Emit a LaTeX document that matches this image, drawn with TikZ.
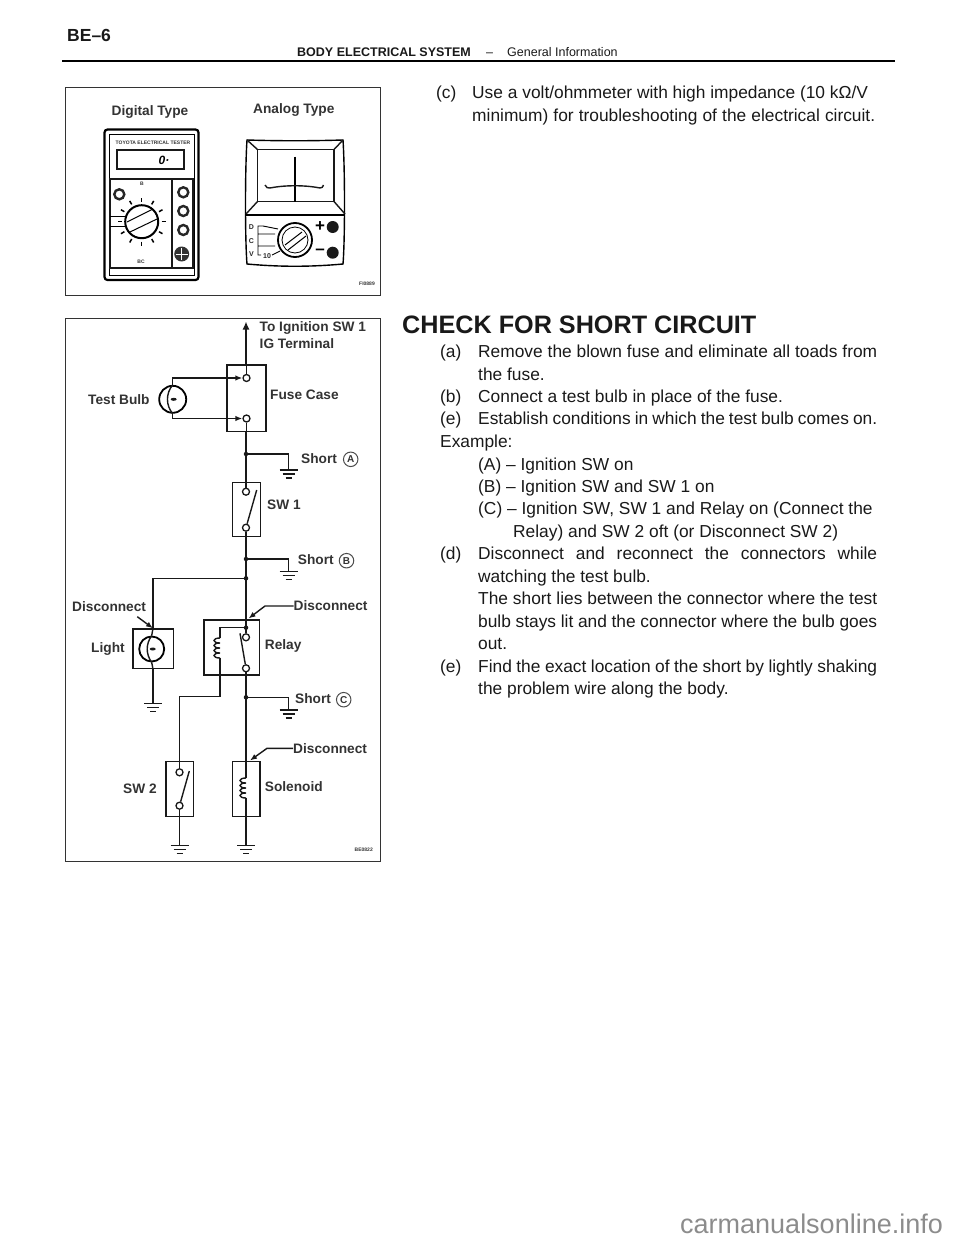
\documentclass[tikz,border=0pt]{standalone}
\usepackage{fontspec}
\setmainfont{Liberation Sans}
\usetikzlibrary{calc,arrows.meta,shapes.geometric}
\tikzset{
  wire/.style={line width=1.4pt,draw=black!90},
  framebox/.style={line width=1.4pt,draw=black!80},
  partbox/.style={line width=1.5pt,draw=black!90},
  figlabel/.style={inner sep=0pt,anchor=west,font=\fontsize{13.7}{15}\selectfont\bfseries,text=black!80},
  bodyline/.style={inner sep=0pt,anchor=base west,font=\fontsize{17.35}{20}\selectfont,text=black!90},
  terminal/.style={circle,draw=black!90,fill=white,line width=1.3pt,minimum size=7pt,inner sep=0pt},
  junction/.style={circle,fill=black!90,minimum size=4.5pt,inner sep=0pt},
  tinylabel/.style={inner sep=0pt,font=\fontsize{5}{5}\selectfont\bfseries,text=black!80},
  rangelabel/.style={inner sep=0pt,font=\fontsize{7}{7}\selectfont\bfseries,text=black!85},
  filament/.style={ellipse,fill=black!90,minimum width=6pt,minimum height=3pt,inner sep=0pt},
  jackring/.style={circle,draw=black!85,fill=white,line width=2.4pt,minimum size=10pt,inner sep=0pt},
  shortmark/.style={circle,draw=black!70,line width=1pt,minimum size=14.5pt,inner sep=0pt,font=\fontsize{10}{10}\selectfont\bfseries,text=black!80},
  tip/.style={-{Latex[length=7pt,width=5.5pt]}},
}
\newcommand{\earth}[1]{%
  \draw[wire] ($(#1)+(-9,0)$) -- ($(#1)+(9,0)$);
  \draw[wire] ($(#1)+(-6,4)$) -- ($(#1)+(6,4)$);
  \draw[wire] ($(#1)+(-3,8)$) -- ($(#1)+(3,8)$);
}
\newcommand{\coilat}[1]{%
  \draw[wire] ($(#1)+(0,-10)$) .. controls ($(#1)+(-8,-10)$) and ($(#1)+(-8,-5)$) .. ($(#1)+(0,-5)$)
    .. controls ($(#1)+(-8,-5)$) and ($(#1)+(-8,0)$) .. ($(#1)+(0,0)$)
    .. controls ($(#1)+(-8,0)$) and ($(#1)+(-8,5)$) .. ($(#1)+(0,5)$)
    .. controls ($(#1)+(-8,5)$) and ($(#1)+(-8,10)$) .. ($(#1)+(0,10)$);
}
\newcommand{\fullline}[1]{\makebox[399pt][s]{#1}}
\begin{document}
\begin{tikzpicture}[x=1pt,y=-1pt]
  \useasboundingbox (0,0) rectangle (960,1242);
  % page head
  \node[bodyline,font=\fontsize{17.5}{20}\selectfont\bfseries] (pageno) at (67,41) {BE–6};
  \node[bodyline,font=\fontsize{12.5}{14}\selectfont\bfseries] (headleft) at (297,56) {BODY ELECTRICAL SYSTEM};
  \node[bodyline,font=\fontsize{12.5}{14}\selectfont] (headdash) at (486,56) {–};
  \node[bodyline,font=\fontsize{12.5}{14}\selectfont] (headright) at (507,56) {General Information};
  \draw[line width=1.4pt] (62,61) -- (895,61);
  % tester figure
  \node[draw,framebox,minimum width=315pt,minimum height=208pt,inner sep=0pt,anchor=north west] (meterframe) at (65,87) {};
  \node[figlabel] (digital) at (111.5,112) {Digital Type};
  \node[figlabel] (analog) at (253,110) {Analog Type};
  \node[tinylabel,anchor=east] (meterno) at (375,284) {FI0889};
  % digital tester
  \draw[line width=2.2pt,rounded corners=3pt] (104.5,129.5) rectangle (198.5,280);
  \draw[line width=.8pt] (109,134) rectangle (194,275);
  \draw[wire] (117,150) rectangle (184,169);
  \node[tinylabel] (brand) at (153,143) {TOYOTA ELECTRICAL TESTER};
  \node[inner sep=0pt,font=\fontsize{12}{12}\selectfont\bfseries\itshape] (reading) at (164,160) {0·};
  \draw[wire] (110,179) rectangle (193,268);
  \draw[wire] (172,179) -- (172,268);
  \draw[line width=.8pt] (110,216.7) -- (127,216.7) (110,226.7) -- (127,226.7);
  \node[tinylabel] (tagb) at (142,184) {B};
  \node[tinylabel] (tagbc) at (141,262) {BC};
  \node[circle,draw,line width=2pt,fill=white,minimum size=33pt,inner sep=0pt] (dial) at (141.7,221.7) {};
  \draw[line width=1pt] (127,222) -- (153,209) (130,232) -- (157,219);
  \foreach \a in {0,30,...,330}
    \draw[line width=1.5pt] ($(dial)+(\a:20)$) -- ($(dial)+(\a:24)$);
  \node[jackring] (knob) at (119.3,194.3) {};
  \foreach \y/\n in {192.3/one,211/two,230/three}
    \node[jackring] (jack\n) at (183.3,\y) {};
  \node[circle,fill=black!80,minimum size=15pt,inner sep=0pt] (socket) at (181.7,254) {};
  \draw[white,line width=.8pt] ($(socket)+(-6,0)$) -- ($(socket)+(6,0)$) ($(socket)+(0,-6)$) -- ($(socket)+(0,6)$);
  % analog tester
  \draw[line width=1.4pt] (247,140) .. controls (280,141) and (310,141) .. (343,140)
    .. controls (345,170) and (345,240) .. (343,264) .. controls (310,267) and (280,267) .. (247,264)
    .. controls (245,240) and (245,170) .. (247,140) -- cycle;
  \draw[wire] (257.5,149.5) rectangle (334,201.5);
  \draw[wire] (247,140) -- (257.5,149.5) (343,140) -- (334,149.5) (257.5,201.5) -- (246,214) (334,201.5) -- (345,214);
  \draw[line width=1.5pt] (245.5,215) -- (345,215);
  \draw[line width=2pt] (295,156.5) -- (295,201.5);
  \draw[wire] (265,185) .. controls (266,188) and (268,188) .. (270,188) .. controls (285,185) and (305,185) .. (320,188) .. controls (322,188) and (323,187) .. (323.5,185);
  \node[circle,draw,line width=1.8pt,minimum size=34pt,inner sep=0pt] (adial) at (295,240) {};
  \node[circle,draw,line width=.8pt,minimum size=26pt,inner sep=0pt] (adialin) at (295,240) {};
  \draw[line width=1pt] (285,245) -- (302,232) (288,250) -- (306,236);
  \node[circle,fill=black!90,minimum size=12pt,inner sep=0pt] (plusjack) at (332.7,227) {};
  \node[circle,fill=black!90,minimum size=12pt,inner sep=0pt] (minusjack) at (332.7,252.7) {};
  \node[inner sep=0pt,font=\fontsize{17}{17}\selectfont\bfseries] (plussign) at (320,226.7) {+};
  \node[inner sep=0pt,font=\fontsize{17}{17}\selectfont\bfseries] (minussign) at (320,252) {–};
  \node[rangelabel] (rangeD) at (251.5,226.7) {D};
  \node[rangelabel] (rangeC) at (251.5,240.7) {C};
  \node[rangelabel] (rangeV) at (251.5,254) {V};
  \node[rangelabel] (rangeten) at (267,256.5) {10};
  \draw[line width=.9pt] (263,226) -- (258,226) -- (258,255) -- (261,255)
    (258,234) -- (275,234) (258,246) -- (275,246) (263,226) -- (278,229) (272,255) -- (280,251);
  % circuit figure
  \node[draw,framebox,minimum width=315pt,minimum height=543pt,inner sep=0pt,anchor=north west] (circuitframe) at (65,318) {};
  \node[draw,partbox,minimum width=39pt,minimum height=66.5pt,inner sep=0pt] (fusecase) at (246.3,398.3) {};
  \node[draw,partbox,minimum width=28pt,minimum height=54pt,inner sep=0pt] (swone) at (246.7,509.7) {};
  \node[draw,partbox,minimum width=40.5pt,minimum height=39.3pt,inner sep=0pt] (lightbox) at (153,648.7) {};
  \node[draw,partbox,minimum width=55.3pt,minimum height=55pt,inner sep=0pt] (relay) at (231.7,647.5) {};
  \node[draw,partbox,minimum width=27.3pt,minimum height=55pt,inner sep=0pt] (swtwo) at (179.7,789.2) {};
  \node[draw,partbox,minimum width=27.3pt,minimum height=55pt,inner sep=0pt] (solenoid) at (246.3,789.2) {};
  \coordinate (ignition) at (246,321.5);
  \coordinate (jA) at (246,454);
  \coordinate (jB) at (246,559);
  \coordinate (jD) at (246,578.3);
  \coordinate (jR) at (246,627.7);
  \coordinate (jC) at (246,697.3);
  \coordinate (gA) at (288.5,470);
  \coordinate (gB) at (288.5,571.7);
  \coordinate (gC) at (288.5,710);
  \coordinate (gL) at (153,703.3);
  \coordinate (gS) at (179.5,845.7);
  \coordinate (gT) at (246,845.7);
  % main line
  \draw[wire,-{Latex[length=8pt,width=7pt]}] (fusecase.north -| ignition) -- (ignition);
  \draw[wire] (fusecase.south -| jA) -- (swone.north -| jA);
  \draw[wire] (swone.south -| jA) -- (relay.north -| jA);
  \draw[wire] (relay.north -| jA) -- (jR);
  \draw[wire] (relay.south -| jA) -- (solenoid.north -| jA);
  \draw[wire] (solenoid.south -| jA) -- (gT);
  \draw[wire] (jA) -| (gA);
  \draw[wire] (jB) -| (gB);
  \draw[wire] (jC) -| (gC);
  \draw[wire] (jD) -| (lightbox.north -| gL);
  \draw[wire] (lightbox.south -| gL) -- (gL);
  \draw[wire] (swtwo.south -| gS) -- (gS);
  \earth{gA} \earth{gB} \earth{gC} \earth{gL} \earth{gS} \earth{gT}
  \foreach \p in {jA,jB,jD,jR,jC} \node[junction] at (\p) {};
  % fuse case and test bulb
  \node[circle,draw,line width=1.8pt,minimum size=27pt,inner sep=0pt] (bulb) at (172.7,399.3) {};
  \node[terminal] (fusetop) at (246.5,378) {};
  \node[terminal] (fusebot) at (246.5,418.5) {};
  \draw[wire,tip] (bulb.north) |- (fusetop.west);
  \draw[wire,tip] (bulb.south) |- (fusebot.west);
  \draw[wire] (fusecase.north -| fusetop) -- (fusetop.north) (fusebot.south) -- (fusecase.south -| fusebot);
  \draw[wire] (bulb.north) .. controls ($(bulb)+(-7,-6)$) and ($(bulb)+(-7,6)$) .. (bulb.south);
  \node[filament] (bulbfil) at ($(bulb)+(1,0)$) {};
  % switches
  \node[terminal] (swonetop) at (246,491.7) {};
  \node[terminal] (swonebot) at (246,527.7) {};
  \draw[wire] (swone.north -| swonetop) -- (swonetop.north) (swonebot.south) -- (swone.south -| swonebot);
  \draw[wire] (swonebot) -- (256.7,490);
  \node[terminal] (swtwotop) at (179.5,772.3) {};
  \node[terminal] (swtwobot) at (179.5,805.7) {};
  \draw[wire] (swtwo.north -| swtwotop) -- (swtwotop.north) (swtwobot.south) -- (swtwo.south -| swtwobot);
  \draw[wire] (swtwobot) -- (189.3,771);
  % light
  \node[circle,draw,line width=1.8pt,minimum size=25pt,inner sep=0pt] (lamp) at (151.7,649) {};
  \draw[wire] (lamp.north) .. controls ($(lamp)+(-6,-5)$) and ($(lamp)+(-6,5)$) .. (lamp.south);
  \draw[wire] (lightbox.north -| gL) -- (lamp.north) (lamp.south) -- (lightbox.south -| gL);
  \node[filament] (lampfil) at ($(lamp)+(1,0)$) {};
  % relay
  \coordinate (relaycoil) at (220,648);
  \draw[wire] (jR) -| ($(relaycoil)+(0,-10)$);
  \coilat{relaycoil}
  \draw[wire] ($(relaycoil)+(0,10)$) -- (220,696.7) -| (swtwo.north -| gS);
  \node[terminal] (relaytop) at (246,637.3) {};
  \node[terminal] (relaybot) at (246,668.3) {};
  \draw[wire] (jR) -- (relaytop.north) (relaybot.south) -- (relay.south -| jR);
  \draw[wire] (relaybot) -- (240,633.3);
  % solenoid
  \coordinate (solcoil) at (246,788);
  \coilat{solcoil}
  \draw[wire] (solenoid.north -| solcoil) -- ($(solcoil)+(0,-10)$) ($(solcoil)+(0,10)$) -- (solenoid.south -| solcoil);
  % disconnect pointers
  \node[figlabel] (dislight) at (72,606.5) {Disconnect};
  \node[figlabel] (disrelay) at (293.5,606) {Disconnect};
  \node[figlabel] (dissol) at (293,748.3) {Disconnect};
  \coordinate (ptlight) at (137.3,616.7);
  \draw[wire,tip] (ptlight) -- (lightbox.north -| gL);
  \draw[wire,tip] (disrelay.west) -- (265,606) -- (248.5,618.5);
  \draw[wire,tip] (dissol.west) -- (267,748.3) -- (250,760.5);
  % circuit labels
  \node[figlabel] (tolabelA) at (259.5,328) {To Ignition SW 1};
  \node[figlabel] (tolabelB) at (259.5,343.7) {IG Terminal};
  \node[figlabel] (fuselabel) at (270,394.7) {Fuse Case};
  \node[figlabel] (bulblabel) at (88,399.3) {Test Bulb};
  \node[figlabel] (shortA) at (301,459) {Short};
  \node[shortmark] (markA) at (350.7,459.3) {A};
  \node[figlabel] (swonelabel) at (267,505) {SW 1};
  \node[figlabel] (shortB) at (297.7,560) {Short};
  \node[shortmark] (markB) at (346.5,560.7) {B};
  \node[figlabel] (lightlabel) at (91,649) {Light};
  \node[figlabel] (relaylabel) at (264.7,646) {Relay};
  \node[figlabel] (shortC) at (295,699) {Short};
  \node[shortmark] (markC) at (343.7,699.7) {C};
  \node[figlabel] (swtwolabel) at (123,789) {SW 2};
  \node[figlabel] (sollabel) at (264.7,787) {Solenoid};
  \node[tinylabel,anchor=east] (circuitno) at (373,850) {BE0822};
  % right column
  \node[bodyline] (c1) at (436,98) {(c)};
  \node[bodyline] (c1b) at (472,98) {Use a volt/ohmmeter with high impedance (10 kΩ/V};
  \node[bodyline] (c2) at (472,121) {\makebox[403pt][s]{minimum) for troubleshooting of the electrical circuit.}};
  \node[bodyline,font=\fontsize{25.2}{28}\selectfont\bfseries] (title) at (402,333) {CHECK FOR SHORT CIRCUIT};
  \foreach \tagtext/\y in {(a)/357,(b)/402,(e)/424.5,(d)/559,(e)/672}
    \node[bodyline] at (440,\y) {\tagtext};
  \node[bodyline] (a1) at (478,357) {\fullline{Remove the blown fuse and eliminate all toads from}};
  \node[bodyline] (a2) at (478,380) {the fuse.};
  \node[bodyline] (b1) at (478,402) {Connect a test bulb in place of the fuse.};
  \node[bodyline] (e1) at (478,424.5) {\fullline{Establish conditions in which the test bulb comes on.}};
  \node[bodyline] (ex) at (440,447) {Example:};
  \node[bodyline] (exA) at (478,470) {(A) – Ignition SW on};
  \node[bodyline] (exB) at (478,492) {(B) – Ignition SW and SW 1 on};
  \node[bodyline] (exC) at (478,514.5) {(C) – Ignition SW, SW 1 and Relay on (Connect the};
  \node[bodyline] (exD) at (513,537) {Relay) and SW 2 oft (or Disconnect SW 2)};
  \node[bodyline] (d1) at (478,559) {\fullline{Disconnect\hfill and\hfill reconnect\hfill the\hfill connectors\hfill while}};
  \node[bodyline] (d2) at (478,582) {watching the test bulb.};
  \node[bodyline] (d3) at (478,604) {\fullline{The short lies between the connector where the test}};
  \node[bodyline] (d4) at (478,627) {\fullline{bulb stays lit and the connector where the bulb goes}};
  \node[bodyline] (d5) at (478,649) {out.};
  \node[bodyline] (e2) at (478,672) {\fullline{Find the exact location of the short by lightly shaking}};
  \node[bodyline] (e3) at (478,694.5) {the problem wire along the body.};
  % site mark
  \node[bodyline,font=\fontsize{27}{29}\selectfont,text=black!45] (site) at (680,1233) {carmanualsonline.info};
\end{tikzpicture}
\end{document}
